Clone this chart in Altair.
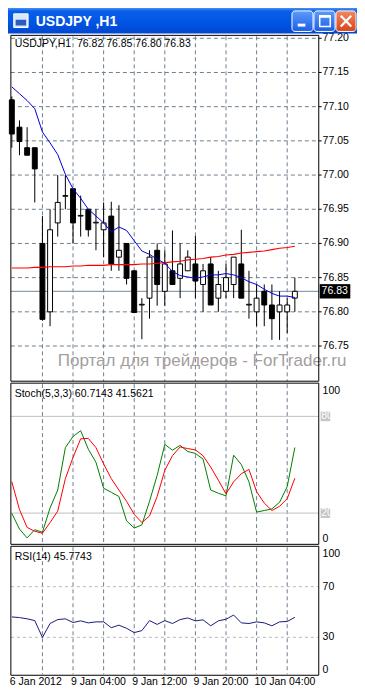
import altair as alt
import pandas as pd

# ---------------- data ----------------
bars = list(range(38))
opens = [77.110, 77.070, 77.040, 77.040, 76.900, 76.800, 76.930, 76.969, 76.980, 76.940,
         76.950, 76.930, 76.920, 76.940, 76.880, 76.900, 76.860, 76.810, 76.820, 76.890,
         76.830, 76.860, 76.849, 76.860, 76.870, 76.840, 76.870, 76.820, 76.830, 76.840,
         76.870, 76.810, 76.800, 76.830, 76.810, 76.800, 76.800, 76.820]
highs = [77.115, 77.080, 77.070, 77.040, 76.940, 76.950, 77.000, 77.000, 76.980, 76.970,
         76.950, 76.950, 76.960, 76.961, 76.956, 76.900, 76.860, 76.820, 76.890, 76.900,
         76.890, 76.919, 76.900, 76.890, 76.911, 76.870, 76.880, 76.860, 76.870, 76.880,
         76.920, 76.860, 76.840, 76.840, 76.840, 76.830, 76.820, 76.850]
lows = [77.040, 77.029, 77.029, 76.960, 76.787, 76.779, 76.910, 76.950, 76.900, 76.910,
        76.910, 76.890, 76.880, 76.860, 76.860, 76.840, 76.799, 76.760, 76.790, 76.809,
        76.809, 76.840, 76.820, 76.860, 76.820, 76.800, 76.810, 76.800, 76.820, 76.820,
        76.820, 76.790, 76.779, 76.779, 76.759, 76.759, 76.769, 76.800]
closes = [77.060, 77.049, 77.029, 77.009, 76.789, 76.920, 76.960, 76.970, 76.930, 76.941,
          76.920, 76.931, 76.930, 76.870, 76.890, 76.849, 76.799, 76.811, 76.880, 76.840,
          76.870, 76.840, 76.870, 76.880, 76.845, 76.860, 76.810, 76.840, 76.850, 76.880,
          76.820, 76.811, 76.820, 76.810, 76.790, 76.810, 76.810, 76.830]
ma_fast = [77.129, 77.119, 77.109, 77.097, 77.063, 77.047, 77.030, 77.001, 76.980, 76.966,
           76.950, 76.940, 76.930, 76.917, 76.924, 76.919, 76.904, 76.889, 76.884, 76.877,
           76.871, 76.859, 76.853, 76.851, 76.849, 76.851, 76.854, 76.854, 76.856, 76.854,
           76.850, 76.844, 76.840, 76.833, 76.827, 76.823, 76.823, 76.821]
ma_slow = [76.864, 76.864, 76.864, 76.865, 76.865, 76.866, 76.866, 76.866, 76.867, 76.867,
           76.868, 76.868, 76.868, 76.869, 76.869, 76.869, 76.869, 76.870, 76.870, 76.871,
           76.872, 76.873, 76.874, 76.876, 76.877, 76.878, 76.880, 76.881, 76.883, 76.884,
           76.886, 76.887, 76.888, 76.889, 76.891, 76.893, 76.894, 76.896]
stoch_main = [19.8, 10.1, 4.6, 9.7, 8.1, 23.2, 34.3, 60.6, 67.5, 71.1,
              59.6, 51.5, 35.4, 32.9, 30.3, 15.2, 10.7, 12.7, 27.3, 43.4,
              62.6, 59.0, 62.0, 58.2, 57.0, 53.5, 34.3, 32.3, 30.7, 55.9,
              50.1, 39.4, 20.6, 21.6, 22.6, 26.7, 36.4, 60.7]
stoch_signal = [39.4, 22.2, 11.1, 8.7, 7.5, 14.1, 21.2, 41.4, 54.5, 66.1,
                66.3, 60.6, 50.5, 41.4, 34.3, 27.3, 19.2, 14.1, 18.2, 30.3,
                46.5, 55.6, 61.0, 60.0, 59.2, 55.6, 48.5, 40.4, 31.9, 39.4,
                44.4, 47.1, 33.3, 26.2, 21.6, 24.2, 28.9, 41.6]
rsi = [46.1, 45.6, 44.6, 43.2, 29.9, 40.9, 44.0, 44.6, 41.7, 43.0,
       41.4, 42.2, 42.2, 37.6, 39.6, 37.1, 33.7, 35.3, 43.2, 40.2,
       43.2, 40.9, 44.0, 45.3, 43.0, 43.8, 39.1, 43.0, 44.3, 47.6,
       41.4, 40.9, 42.2, 41.4, 39.1, 42.2, 42.5, 45.8]

price_ticks = [77.20, 77.15, 77.10, 77.05, 77.00, 76.95, 76.90, 76.85, 76.80, 76.75]
grid_bars = [4, 8, 12, 16, 20, 24, 28, 32, 36]
time_bars = [0, 8, 16, 24, 32]
time_labels = ["6 Jan 2012", "9 Jan 04:00", "9 Jan 12:00", "9 Jan 20:00", "10 Jan 04:00"]
last_price = 76.83
stoch_levels = [80, 20]
rsi_levels = [70, 30]

header_main = "USDJPY,H1\u00a0\u00a076.82 76.85 76.80 76.83"
header_stoch = "Stoch(5,3,3) 60.7143 41.5621"
header_rsi = "RSI(14) 45.7743"
window_title = "USDJPY ,H1"
watermark = "Портал для трейдеров - ForTrader.ru"

# ---------------- layout helpers ----------------
W, H = 349, 678
SX, SY = W / 365, H / 694
def X(v): return v * SX
def Y(v): return v * SY
FONT = "Liberation Sans"
GRID = "#6f7f90"
FS = 10.5

df = pd.DataFrame(dict(k=bars, o=opens, h=highs, l=lows, c=closes,
                       maf=ma_fast, mas=ma_slow, sk=stoch_main, sd=stoch_signal, rsi=rsi))
df["fill"] = ["white" if c >= o else "black" for o, c in zip(opens, closes)]

xs = alt.Scale(domain=[0, 37], range=[X(4), X(300)], nice=False, zero=False)
ps = alt.Scale(domain=[76.75, 77.20], range=[Y(346), Y(31)], nice=False, zero=False)
ss = alt.Scale(domain=[0, 100], range=[Y(550), Y(385)], nice=False, zero=False)
rs = alt.Scale(domain=[0, 100], range=[Y(683), Y(553.5)], nice=False, zero=False)

one = pd.DataFrame({"a": [0]})
def box(x1, x2, y1, y2, **kw):
    return alt.Chart(one).mark_rect(**kw).encode(
        x=alt.value(X(x1)), x2=alt.value(X(x2)), y=alt.value(Y(y1)), y2=alt.value(Y(y2)))
def label(txt, x, y, **kw):
    return alt.Chart(one).mark_text(text=txt, font=FONT, **kw).encode(
        x=alt.value(X(x)), y=alt.value(Y(y)))
def seg(x1, y1, x2, y2, **kw):
    return alt.Chart(one).mark_rule(**kw).encode(
        x=alt.value(X(x1)), x2=alt.value(X(x2)), y=alt.value(Y(y1)), y2=alt.value(Y(y2)))

layers = []
layers.append(box(0, 365, 0, 694, color="white"))

# vertical grids per pane
gdf = pd.DataFrame({"k": grid_bars})
for top, bot in [(29, 382), (385, 548), (552, 682)]:
    layers.append(alt.Chart(gdf).mark_rule(color=GRID, strokeDash=[4, 3], strokeWidth=1).encode(
        x=alt.X("k:Q", scale=xs, axis=None), y=alt.value(Y(top)), y2=alt.value(Y(bot))))

# horizontal price grid
pdf = pd.DataFrame({"p": price_ticks})
layers.append(alt.Chart(pdf).mark_rule(color=GRID, strokeDash=[4, 3], strokeWidth=1).encode(
    y=alt.Y("p:Q", scale=ps, axis=None), x=alt.value(X(3)), x2=alt.value(X(325))))

# stoch levels
sdf = pd.DataFrame({"v": stoch_levels})
layers.append(alt.Chart(sdf).mark_rule(color="#c0c0c0", strokeWidth=1).encode(
    y=alt.Y("v:Q", scale=ss, axis=None), x=alt.value(X(3)), x2=alt.value(X(325))))
# rsi levels
rdf = pd.DataFrame({"v": rsi_levels})
layers.append(alt.Chart(rdf).mark_rule(color="#b8b8b8", strokeDash=[3, 3], strokeWidth=1).encode(
    y=alt.Y("v:Q", scale=rs, axis=None), x=alt.value(X(3)), x2=alt.value(X(325))))

# watermark
layers.append(label(watermark, 203, 361, fontSize=17, color="#a49e9e", align="center", baseline="middle"))

# last price line
lp = pd.DataFrame({"p": [last_price]})
layers.append(alt.Chart(lp).mark_rule(color="#7a8896", strokeWidth=1).encode(
    y=alt.Y("p:Q", scale=ps, axis=None), x=alt.value(X(3)), x2=alt.value(X(325))))

# candles
base = alt.Chart(df)
layers.append(base.mark_rule(color="black", strokeWidth=1).encode(
    x=alt.X("k:Q", scale=xs, axis=None),
    y=alt.Y("l:Q", scale=ps, axis=None), y2="h:Q"))
layers.append(base.transform_calculate(x1="datum.k - 0.32", x2="datum.k + 0.32").mark_rect(
    stroke="black", strokeWidth=1).encode(
    x=alt.X("x1:Q", scale=xs, axis=None), x2="x2:Q",
    y=alt.Y("o:Q", scale=ps, axis=None), y2="c:Q",
    fill=alt.Fill("fill:N", scale=None)))

# moving averages
layers.append(base.mark_line(color="#ff0000", strokeWidth=1.1).encode(
    x=alt.X("k:Q", scale=xs, axis=None), y=alt.Y("mas:Q", scale=ps, axis=None)))
layers.append(base.mark_line(color="#0000e0", strokeWidth=1).encode(
    x=alt.X("k:Q", scale=xs, axis=None), y=alt.Y("maf:Q", scale=ps, axis=None)))

# stochastic
layers.append(base.mark_line(color="#008000", strokeWidth=1).encode(
    x=alt.X("k:Q", scale=xs, axis=None), y=alt.Y("sk:Q", scale=ss, axis=None)))
layers.append(base.mark_line(color="#ff0000", strokeWidth=1).encode(
    x=alt.X("k:Q", scale=xs, axis=None), y=alt.Y("sd:Q", scale=ss, axis=None)))

# rsi
layers.append(base.mark_line(color="#1c1c80", strokeWidth=1).encode(
    x=alt.X("k:Q", scale=xs, axis=None), y=alt.Y("rsi:Q", scale=rs, axis=None)))

# pane frames
for top, bot in [(28, 382), (384, 549), (551, 683)]:
    layers.append(box(3, 325, top, bot, fill="transparent", stroke="black", strokeWidth=1))

# price axis ticks & labels
layers.append(alt.Chart(pdf).mark_rule(color="black").encode(
    y=alt.Y("p:Q", scale=ps, axis=None), x=alt.value(X(325)), x2=alt.value(X(328))))
layers.append(alt.Chart(pdf).mark_text(font=FONT, fontSize=FS, align="left", baseline="middle").encode(
    y=alt.Y("p:Q", scale=ps, axis=None), x=alt.value(X(329)), text=alt.Text("p:Q", format=".2f")))

# last price tag
layers.append(alt.Chart(lp).transform_calculate(p1="datum.p - 0.0105", p2="datum.p + 0.0105").mark_rect(
    color="black").encode(y=alt.Y("p1:Q", scale=ps, axis=None), y2="p2:Q",
                          x=alt.value(X(326)), x2=alt.value(X(358))))
layers.append(alt.Chart(lp).mark_text(font=FONT, fontSize=FS, align="left", baseline="middle",
                                      color="white").encode(
    y=alt.Y("p:Q", scale=ps, axis=None), x=alt.value(X(328)), text=alt.Text("p:Q", format=".2f")))

# stoch scale labels
layers.append(alt.Chart(sdf).transform_calculate(v1="datum.v - 3", v2="datum.v + 3").mark_rect(
    color="#c4c4c4").encode(y=alt.Y("v1:Q", scale=ss, axis=None), y2="v2:Q",
                             x=alt.value(X(327)), x2=alt.value(X(337))))
layers.append(alt.Chart(sdf).mark_text(font=FONT, fontSize=FS, align="left", baseline="middle",
                                       color="white").encode(
    y=alt.Y("v:Q", scale=ss, axis=None), x=alt.value(X(327.5)), text="v:Q"))
ends = pd.DataFrame({"v": [100, 0], "t": ["100", "0"]})
layers.append(alt.Chart(ends).transform_calculate(vy="datum.v == 100 ? 96 : 4").mark_text(
    font=FONT, fontSize=FS, align="left", baseline="middle").encode(
    y=alt.Y("vy:Q", scale=ss, axis=None), x=alt.value(X(329)), text="t:N"))

# rsi scale labels
rlab = pd.DataFrame({"v": [100, 70, 30, 0], "t": ["100", "70", "30", "0"],
                     "vy": [95.5, 70, 30, 4]})
layers.append(alt.Chart(rlab).mark_text(font=FONT, fontSize=FS, align="left", baseline="middle").encode(
    y=alt.Y("vy:Q", scale=rs, axis=None), x=alt.value(X(329)), text="t:N"))

# time labels
tdf = pd.DataFrame({"k": time_bars, "t": time_labels})
layers.append(alt.Chart(tdf).mark_text(font=FONT, fontSize=FS, align="left", baseline="alphabetic", dx=-2).encode(
    x=alt.X("k:Q", scale=xs, axis=None), y=alt.value(H - 1), text="t:N"))

# pane headers
layers.append(label(header_main, 7, 37, fontSize=FS, align="left", baseline="middle"))
layers.append(label(header_stoch, 7, 395, fontSize=FS, align="left", baseline="middle"))
layers.append(label(header_rsi, 7, 562, fontSize=FS, align="left", baseline="middle"))

# window title bar
grad = {"gradient": "linear", "x1": 0, "x2": 0, "y1": 0, "y2": 1,
        "stops": [{"offset": 0, "color": "#4a90f5"}, {"offset": 0.12, "color": "#0a5fe8"},
                  {"offset": 0.6, "color": "#0054e3"}, {"offset": 1, "color": "#0346cf"}]}
layers.append(box(0, 365, 0, 26, color=grad))
layers.append(box(6, 21, 6, 20, fill="#d8e6fa", stroke="white", strokeWidth=1))
layers.append(box(8, 19, 12, 18, fill="#2a5bbf"))
layers.append(label(window_title, 29, 14, fontSize=14, fontWeight="bold", color="white",
                    align="left", baseline="middle"))
bgrad = {"gradient": "linear", "x1": 0, "x2": 0, "y1": 0, "y2": 1,
         "stops": [{"offset": 0, "color": "#5d9bfb"}, {"offset": 1, "color": "#1c5ee6"}]}
cgrad = {"gradient": "linear", "x1": 0, "x2": 0, "y1": 0, "y2": 1,
         "stops": [{"offset": 0, "color": "#f08a62"}, {"offset": 1, "color": "#d8431c"}]}
layers.append(box(297, 319, 3, 24, color=bgrad, stroke="white", strokeWidth=1, cornerRadius=3))
layers.append(box(320, 342, 3, 24, color=bgrad, stroke="white", strokeWidth=1, cornerRadius=3))
layers.append(box(343, 364, 3, 24, color=cgrad, stroke="white", strokeWidth=1, cornerRadius=3))
layers.append(box(303, 311, 16, 19, color="white"))
layers.append(box(326, 337, 8, 19, fill="transparent", stroke="white", strokeWidth=1.5))
layers.append(box(326, 337, 8, 10, color="white"))
layers.append(seg(348, 8, 359, 19, color="white", strokeWidth=2.2))
layers.append(seg(359, 8, 348, 19, color="white", strokeWidth=2.2))

chart = alt.layer(*layers).resolve_scale(y="independent", x="independent").properties(
    width=W, height=H, padding=0, autosize="none", background="white"
).configure_view(stroke=None)

chart.save("out.html", embed_options={"renderer": "svg", "actions": False})
